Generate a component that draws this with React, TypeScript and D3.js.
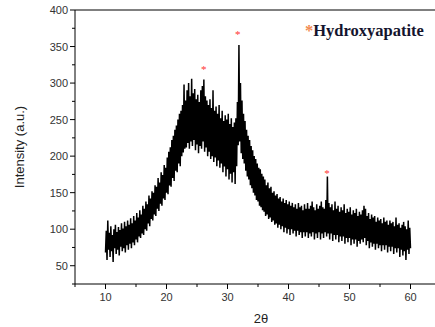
import React from 'react';
import * as d3 from 'd3';

// 2θ grid of the readings, 10° to 60° every 0.25°
const angles: number[] = d3.range(0, 201).map((i) => 10 + i * 0.25);

// lower / upper edge of the noisy band at each angle
const bandLow: number[] = [
  68, 58, 72, 62, 70, 55, 74, 66, 72, 64, 76, 70, 74, 68, 78, 72, 80, 74, 82, 78,
  86, 82, 90, 88, 94, 92, 100, 98, 108, 104, 114, 112, 120, 118, 128, 125, 135, 132, 142, 140,
  150, 148, 160, 158, 170, 166, 180, 178, 190, 186, 200, 205, 210, 212, 218, 210, 220, 214, 222, 208,
  216, 204, 214, 210, 220, 206, 212, 200, 206, 196, 200, 192, 198, 186, 194, 184, 190, 178, 186, 172,
  182, 168, 176, 164, 178, 162, 186, 215, 220, 204, 196, 190, 180, 172, 168, 160, 156, 150, 146, 140,
  138, 132, 130, 126, 124, 118, 120, 114, 116, 110, 112, 106, 108, 102, 106, 100, 104, 96, 102, 94,
  100, 92, 100, 94, 98, 90, 98, 92, 96, 88, 96, 90, 96, 88, 94, 90, 96, 86, 94, 88,
  96, 86, 94, 88, 96, 90, 94, 86, 94, 84, 92, 86, 92, 82, 90, 84, 90, 80, 88, 82,
  88, 78, 86, 80, 86, 76, 84, 80, 86, 82, 88, 78, 84, 74, 82, 76, 80, 72, 80, 74,
  78, 70, 78, 72, 78, 68, 76, 70, 76, 66, 74, 68, 74, 62, 72, 64, 70, 58, 72, 66,
  74,
];
const bandHigh: number[] = [
  98, 112, 95, 104, 92, 100, 106, 96, 103, 99, 108, 101, 110, 104, 112, 106, 115, 108, 118, 112,
  122, 116, 126, 120, 132, 128, 138, 134, 146, 142, 152, 150, 160, 158, 170, 164, 178, 174, 188, 184,
  198, 206, 212, 222, 228, 236, 242, 250, 258, 262, 270, 298, 276, 290, 300, 282, 306, 286, 292, 278,
  284, 274, 290, 296, 305, 282, 276, 270, 278, 266, 290, 262, 268, 258, 270, 252, 262, 248, 256, 250,
  258, 244, 252, 240, 246, 252, 274, 352, 300, 276, 258, 248, 236, 228, 222, 214, 208, 200, 196, 190,
  184, 182, 176, 172, 168, 160, 164, 156, 158, 150, 152, 146, 148, 142, 144, 138, 142, 136, 140, 134,
  138, 132, 136, 130, 134, 128, 136, 130, 132, 126, 134, 128, 136, 128, 132, 138, 130, 126, 134, 128,
  132, 138, 130, 128, 140, 172, 136, 130, 134, 126, 138, 128, 132, 124, 130, 126, 134, 122, 128, 124,
  130, 120, 126, 122, 128, 118, 124, 120, 126, 132, 128, 118, 122, 114, 120, 116, 118, 110, 116, 112,
  114, 108, 116, 110, 112, 106, 112, 108, 110, 104, 116, 106, 108, 102, 106, 110, 104, 100, 112, 102,
  98,
];

// hydroxyapatite reflections marked with a red star: [2θ, intensity]
const hapMarks: [number, number][] = [
  [26.1, 322],
  [31.7, 370],
  [46.3, 179],
];

const xTicks = [10, 20, 30, 40, 50, 60];
const xMinor = [5, 15, 25, 35, 45, 55, 65];
const yTicks = [50, 100, 150, 200, 250, 300, 350, 400];
const yMinor = [25, 75, 125, 175, 225, 275, 325, 375];

const W = 435;
const H = 327;
const left = 75;
const top = 10;
const bottom = 284;

export default function App() {
  const x = d3.scaleLinear().domain([5, 65]).range([left, 441]);
  const y = d3.scaleLinear().domain([25, 400]).range([bottom, top]);

  // zig-zag through the band: low edge, then high edge half a step later
  const pts: [number, number][] = [];
  angles.forEach((a, i) => {
    pts.push([a, bandLow[i]]);
    if (i < angles.length - 1) pts.push([a + 0.125, bandHigh[i]]);
  });
  const line = d3
    .line<[number, number]>()
    .x((d) => x(d[0]))
    .y((d) => y(d[1]));

  const tickFont = { fontFamily: 'Liberation Sans, Arial, sans-serif', fontSize: 11, fill: '#333' };

  return (
    <div style={{ position: 'fixed', left: 0, top: 0 }}>
      <svg width={W} height={H} style={{ display: 'block', background: '#fff' }}>
        <path d={line(pts) || ''} fill="none" stroke="#000" strokeWidth={1.5} strokeLinejoin="miter" strokeMiterlimit={2} />

        {/* frame */}
        <line x1={left} x2={W} y1={top} y2={top} stroke="#000" strokeWidth={1} />
        <line x1={left} x2={left} y1={top} y2={bottom} stroke="#000" strokeWidth={1} />
        <line x1={left} x2={W} y1={bottom} y2={bottom} stroke="#000" strokeWidth={1} />

        {/* y axis */}
        {yTicks.map((t) => (
          <g key={'y' + t}>
            <line x1={left - 5} x2={left} y1={y(t)} y2={y(t)} stroke="#000" />
            <text x={left - 7} y={y(t) + 4} textAnchor="end" {...tickFont}>
              {t}
            </text>
          </g>
        ))}
        {yMinor.map((t) => (
          <line key={'ym' + t} x1={left - 3} x2={left} y1={y(t)} y2={y(t)} stroke="#000" />
        ))}

        {/* x axis */}
        {xTicks.map((t) => (
          <g key={'x' + t}>
            <line x1={x(t)} x2={x(t)} y1={bottom} y2={bottom + 5} stroke="#000" />
            <text x={x(t)} y={bottom + 17} textAnchor="middle" {...tickFont}>
              {t}
            </text>
          </g>
        ))}
        {xMinor.map((t) => (
          <line key={'xm' + t} x1={x(t)} x2={x(t)} y1={bottom} y2={bottom + 3} stroke="#000" />
        ))}

        {/* axis titles */}
        <text
          transform={`translate(24,${(top + bottom) / 2}) rotate(-90)`}
          textAnchor="middle"
          fontFamily="Liberation Sans, Arial, sans-serif"
          fontSize={13}
          fill="#222"
        >
          Intensity (a.u.)
        </text>
        <text
          x={x(35.5)}
          y={323}
          textAnchor="middle"
          fontFamily="Liberation Sans, Arial, sans-serif"
          fontSize={13}
          fill="#222"
        >
          2θ
        </text>

        {/* peak markers */}
        {hapMarks.map(([a, v]) => (
          <text
            key={'m' + a}
            x={x(a)}
            y={y(v) + 6}
            textAnchor="middle"
            fontFamily="Liberation Serif, serif"
            fontSize={11}
            fill="#ff3333"
          >
            *
          </text>
        ))}

        {/* legend */}
        <text x={305} y={36} fontFamily="Liberation Serif, serif" fontSize={16.5} fontWeight="bold">
          <tspan fill="#f28a50">*</tspan>
          <tspan fill="#14142e">Hydroxyapatite</tspan>
        </text>
      </svg>
    </div>
  );
}
